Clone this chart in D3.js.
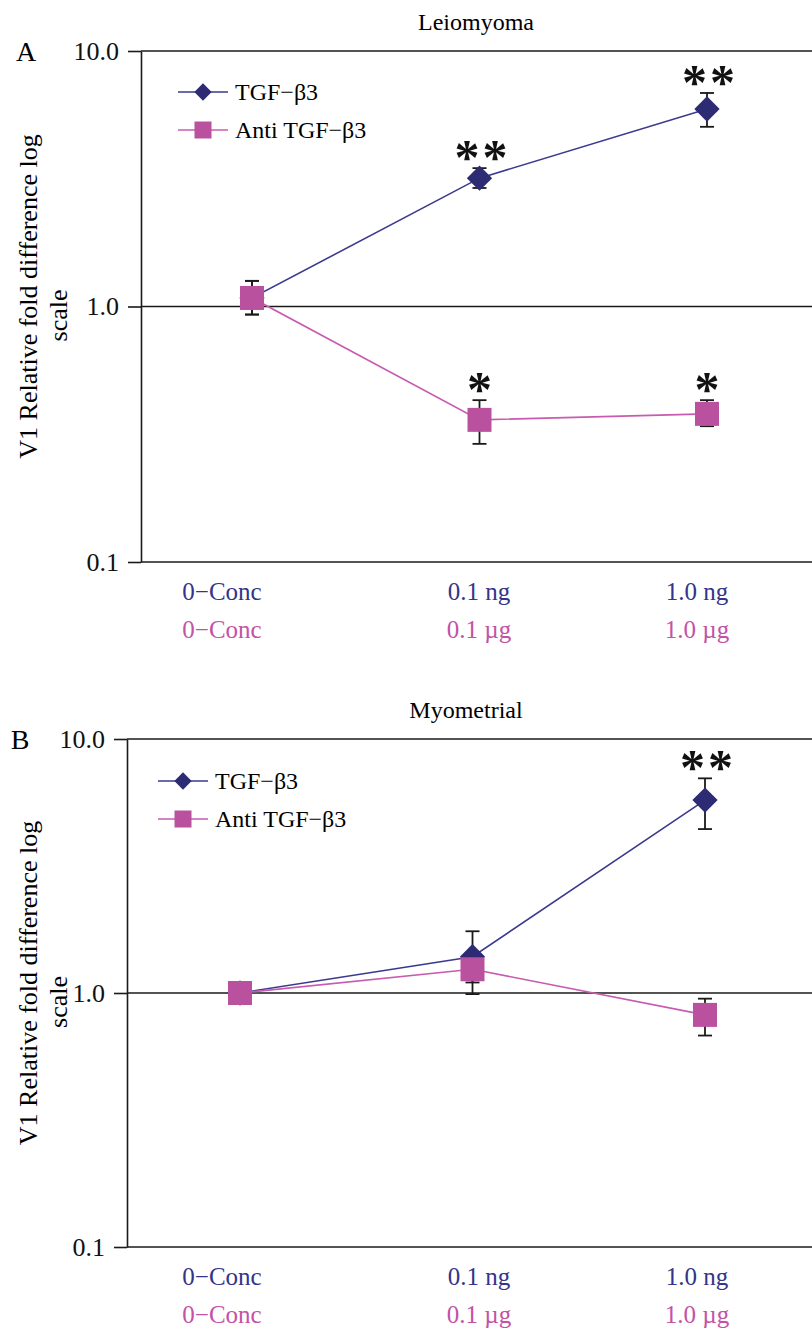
<!DOCTYPE html>
<html>
<head>
<meta charset="utf-8">
<script src="https://cdn.jsdelivr.net/npm/d3@7/dist/d3.min.js"></script>
<style>
  body { margin: 0; background: #fff; }
  svg { display: block; }
  text { font-family: "Liberation Serif", "Times New Roman", serif; }
</style>
</head>
<body>
<svg id="chart" width="812" height="1332"></svg>
<script>
// categories and tick labels
const categories = ['0', '0.1', '1.0'];
const tgfTickLabels = ['0\u2212Conc', '0.1 ng', '1.0 ng'];
const antiTickLabels = ['0\u2212Conc', '0.1 \u00b5g', '1.0 \u00b5g'];
const yTicks = [0.1, 1, 10];
const seriesNames = ['TGF\u2212\u03b23', 'Anti TGF\u2212\u03b23'];

// panel A - Leiomyoma
const leioTgf = [1.08, 3.18, 5.93];
const leioTgfHi = [1.26, 3.48, 6.85];
const leioTgfLo = [0.93, 2.91, 5.05];
const leioTgfSig = ['', '**', '**'];
const leioAnti = [1.08, 0.36, 0.38];
const leioAntiHi = [1.26, 0.43, 0.43];
const leioAntiLo = [0.93, 0.29, 0.34];
const leioAntiSig = ['', '*', '*'];

// panel B - Myometrial
const myoTgf = [1.0, 1.39, 5.75];
const myoTgfHi = [1.0, 1.75, 7.0];
const myoTgfLo = [1.0, 0.99, 4.42];
const myoTgfSig = ['', '', '**'];
const myoAnti = [1.0, 1.24, 0.82];
const myoAntiHi = [1.0, 1.35, 0.95];
const myoAntiLo = [1.0, 1.10, 0.68];
const myoAntiSig = ['', '', ''];

const blue = '#2d2b74', blueLine = '#3b3a8e', blueText = '#33348a';
const pink = '#b9519f', pinkLine = '#c75bb0', pinkText = '#c352a6';

const svg = d3.select('#chart');

function drawPanel(cfg) {
  const g = svg.append('g');
  const right = 812;

  const x = d3.scalePoint().domain(categories).range(cfg.xRange);
  // the category labels sit a little left of the points, as in the original
  const xLabel = d3.scaleOrdinal().domain(categories).range([222, 479, 697]);
  const y = d3.scaleLog().domain([0.1, 10]).range([cfg.bottom, cfg.top]);

  // horizontal reference lines at each decade
  g.selectAll('.hline')
    .data(yTicks)
    .enter()
    .append('line')
    .attr('x1', cfg.left)
    .attr('x2', right)
    .attr('y1', d => y(d))
    .attr('y2', d => y(d))
    .attr('stroke', '#1a1a1a')
    .attr('stroke-width', 1.6);

  const yAxis = g.append('g')
    .attr('transform', `translate(${cfg.left},0)`)
    .call(d3.axisLeft(y)
      .tickValues(yTicks)
      .tickFormat(d3.format('.1f'))
      .tickSizeInner(13)
      .tickSizeOuter(0)
      .tickPadding(9));
  yAxis.select('.domain').attr('stroke', '#1a1a1a').attr('stroke-width', 1.6);
  yAxis.selectAll('.tick line').attr('stroke', '#1a1a1a').attr('stroke-width', 1.6);
  yAxis.selectAll('.tick text')
    .attr('font-size', 26)
    .attr('fill', '#111')
    .style('font-family', '"Liberation Serif", serif');

  // category labels, two rows
  const rows = [[tgfTickLabels, blueText, 38], [antiTickLabels, pinkText, 76]];
  rows.forEach(([labels, color, dy]) => {
    g.selectAll(null)
      .data(categories)
      .enter()
      .append('text')
      .attr('x', d => xLabel(d))
      .attr('y', cfg.bottom + dy)
      .attr('text-anchor', 'middle')
      .attr('font-size', 25)
      .attr('fill', color)
      .text((d, i) => labels[i]);
  });

  // titles
  g.append('text')
    .attr('x', cfg.titleX)
    .attr('y', cfg.top - 21)
    .attr('text-anchor', 'middle')
    .attr('font-size', 24)
    .text(cfg.title);
  g.append('text')
    .attr('x', cfg.letterX)
    .attr('y', cfg.top + 10)
    .attr('text-anchor', 'middle')
    .attr('font-size', 28)
    .text(cfg.letter);

  // y axis label
  const midY = (cfg.top + cfg.bottom) / 2;
  [['V1 Relative fold difference log', 37, -10], ['scale', 67, 9]].forEach(([t, lx, off]) => {
    g.append('text')
      .attr('transform', `translate(${lx},${midY + off}) rotate(-90)`)
      .attr('text-anchor', 'middle')
      .attr('font-size', 26)
      .text(t);
  });

  const lineGen = d3.line().x((d, i) => x(categories[i])).y(d => y(d));

  // series lines
  cfg.series.forEach(s => {
    g.append('path')
      .datum(s.values)
      .attr('d', lineGen)
      .attr('fill', 'none')
      .attr('stroke', s.lineColor)
      .attr('stroke-width', 1.6);
  });

  // error bars
  cfg.series.forEach(s => {
    const eb = g.selectAll(null)
      .data(categories.map((c, i) => ({ c, hi: s.hi[i], lo: s.lo[i] })))
      .enter()
      .append('g')
      .attr('stroke', '#1a1a1a')
      .attr('stroke-width', 1.8);
    eb.append('line')
      .attr('x1', d => x(d.c)).attr('x2', d => x(d.c))
      .attr('y1', d => y(d.hi)).attr('y2', d => y(d.lo));
    eb.append('line')
      .attr('x1', d => x(d.c) - 7).attr('x2', d => x(d.c) + 7)
      .attr('y1', d => y(d.hi)).attr('y2', d => y(d.hi));
    eb.append('line')
      .attr('x1', d => x(d.c) - 7).attr('x2', d => x(d.c) + 7)
      .attr('y1', d => y(d.lo)).attr('y2', d => y(d.lo));
  });

  // markers
  cfg.series.forEach(s => {
    g.selectAll(null)
      .data(s.values)
      .enter()
      .append('path')
      .attr('d', d3.symbol(d3.symbolSquare, s.size))
      .attr('transform', (d, i) => `translate(${x(categories[i])},${y(d)}) rotate(${s.rotate})`)
      .attr('fill', s.color);
  });

  // significance asterisks
  cfg.series.forEach(s => {
    g.selectAll(null)
      .data(s.sig)
      .enter()
      .append('text')
      .attr('x', (d, i) => x(categories[i]) + (d.length > 1 ? 3 : 0))
      .attr('y', (d, i) => y(s.hi[i]) - 18 + 24)
      .attr('text-anchor', 'middle')
      .attr('font-size', 50)
      .attr('font-weight', 'bold')
      .attr('letter-spacing', d => d.length > 1 ? 3 : 0)
      .attr('fill', '#111')
      .text(d => d);
  });

  // legend
  cfg.series.forEach((s, k) => {
    const ly = cfg.legendY + k * 38;
    const lg = g.append('g');
    lg.append('line')
      .attr('x1', cfg.legendX).attr('x2', cfg.legendX + 50)
      .attr('y1', ly).attr('y2', ly)
      .attr('stroke', s.lineColor)
      .attr('stroke-width', 1.6);
    lg.append('path')
      .attr('d', d3.symbol(d3.symbolSquare, s.legendSize))
      .attr('transform', `translate(${cfg.legendX + 25},${ly}) rotate(${s.rotate})`)
      .attr('fill', s.color);
    lg.append('text')
      .attr('x', cfg.legendX + 57)
      .attr('y', ly + 8)
      .attr('font-size', 24)
      .text(seriesNames[k]);
  });
}

function series(values, hi, lo, sig, isTgf) {
  return isTgf
    ? { values, hi, lo, sig, color: blue, lineColor: blueLine, size: 320, legendSize: 150, rotate: 45 }
    : { values, hi, lo, sig, color: pink, lineColor: pinkLine, size: 576, legendSize: 289, rotate: 0 };
}

drawPanel({
  title: 'Leiomyoma', letter: 'A', titleX: 476, letterX: 26,
  top: 51, bottom: 562, left: 141, xRange: [252, 707],
  legendX: 178, legendY: 92,
  series: [
    series(leioTgf, leioTgfHi, leioTgfLo, leioTgfSig, true),
    series(leioAnti, leioAntiHi, leioAntiLo, leioAntiSig, false)
  ]
});

drawPanel({
  title: 'Myometrial', letter: 'B', titleX: 466, letterX: 20,
  top: 739, bottom: 1247, left: 127, xRange: [240, 705],
  legendX: 158, legendY: 781,
  series: [
    series(myoTgf, myoTgfHi, myoTgfLo, myoTgfSig, true),
    series(myoAnti, myoAntiHi, myoAntiLo, myoAntiSig, false)
  ]
});
</script>
</body>
</html>
